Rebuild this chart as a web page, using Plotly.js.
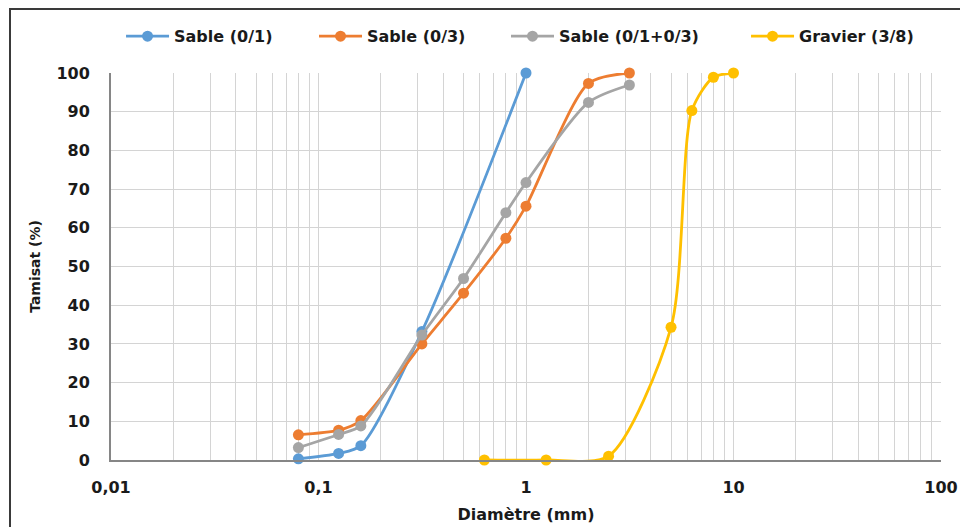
<!DOCTYPE html>
<html>
<head>
<meta charset="utf-8">
<script src="https://cdn.plot.ly/plotly-3.0.1.min.js"></script>
<style>
  html, body { margin: 0; padding: 0; overflow: hidden; background: #fff; }
  #chart { position: absolute; left: 0; top: 0; width: 960px; height: 527px; }
  #frame { position: absolute; left: 9px; top: 8px; width: 1000px; height: 600px;
           border: 2px solid #3a3a3a; pointer-events: none; box-sizing: border-box; }
</style>
</head>
<body>
<div id="chart"></div>
<div id="frame"></div>
<script>
// Data
const sable01_d = [0.08, 0.125, 0.16, 0.315, 1];
const sable01_t = [0.3, 1.7, 3.7, 33.2, 100];

const sable03_d = [0.08, 0.125, 0.16, 0.315, 0.5, 0.8, 1, 2, 3.15];
const sable03_t = [6.5, 7.7, 10.2, 30.0, 43.1, 57.3, 65.6, 97.3, 100];

const sableMix_d = [0.08, 0.125, 0.16, 0.315, 0.5, 0.8, 1, 2, 3.15];
const sableMix_t = [3.2, 6.6, 8.8, 32.3, 46.9, 63.9, 71.7, 92.4, 96.9];

const gravier_d = [0.63, 1.25, 2.5, 5, 6.3, 8, 10];
const gravier_t = [0, 0, 1.0, 34.3, 90.3, 98.9, 100];

const seriesNames = ['Sable (0/1)', 'Sable (0/3)', 'Sable (0/1+0/3)', 'Gravier (3/8)'];
const seriesColors = ['#5b9bd5', '#ed7d31', '#a5a5a5', '#ffc000'];

const xTickVals = [0.01, 0.1, 1, 10, 100];
const xTickText = ['0,01', '0,1', '1', '10', '100'];
const yTickVals = [0, 10, 20, 30, 40, 50, 60, 70, 80, 90, 100];

const xs = [sable01_d, sable03_d, sableMix_d, gravier_d];
const ys = [sable01_t, sable03_t, sableMix_t, gravier_t];
const legendIds = ['legend', 'legend2', 'legend3', 'legend4'];
const legendX = [0.0121, 0.2446, 0.4759, 0.7651];

const traces = xs.map((x, i) => ({
  type: 'scatter',
  mode: 'lines+markers',
  name: seriesNames[i],
  legend: legendIds[i],
  x: x,
  y: ys[i],
  line: { color: seriesColors[i], width: 2.8, shape: 'spline', smoothing: 0.75 },
  marker: { color: seriesColors[i], size: 11 },
  cliponaxis: false
}));

const legendFont = { family: 'DejaVu Sans', size: 16, color: '#1a1a1a', weight: 'bold' };

const layout = {
  width: 960,
  height: 527,
  margin: { l: 111, r: 19, t: 73, b: 67 },
  paper_bgcolor: '#ffffff',
  plot_bgcolor: '#ffffff',
  font: { family: 'DejaVu Sans', size: 16, color: '#1a1a1a' },
  showlegend: true,
  xaxis: {
    type: 'log',
    range: [-2, 2],
    tickvals: xTickVals,
    ticktext: xTickText,
    ticks: '',
    ticklabelstandoff: 12,
    tickfont: { family: 'DejaVu Sans', size: 16, color: '#1a1a1a', weight: 'bold' },
    showgrid: true,
    gridcolor: '#d4d4d4',
    gridwidth: 1,
    minor: { dtick: 'D1', showgrid: true, gridcolor: '#d4d4d4', gridwidth: 1 },
    showline: true,
    linecolor: '#868686',
    linewidth: 2,
    zeroline: false,
    title: { text: 'Diamètre (mm)', standoff: 13,
             font: { family: 'DejaVu Sans', size: 16, color: '#1a1a1a', weight: 'bold' } }
  },
  yaxis: {
    range: [0, 100],
    tickvals: yTickVals,
    ticks: '',
    ticklabelstandoff: 16,
    tickfont: { family: 'DejaVu Sans', size: 16, color: '#1a1a1a', weight: 'bold' },
    showgrid: true,
    gridcolor: '#d4d4d4',
    gridwidth: 1,
    showline: true,
    linecolor: '#868686',
    linewidth: 2,
    zeroline: false,
    title: { text: 'Tamisat (%)', standoff: 12,
             font: { family: 'DejaVu Sans', size: 14, color: '#1a1a1a', weight: 'bold' } }
  }
};

legendIds.forEach((id, i) => {
  layout[id] = {
    orientation: 'h',
    x: legendX[i], xanchor: 'left',
    y: 1.095, yanchor: 'middle',
    font: legendFont,
    itemwidth: 43,
    bgcolor: 'rgba(0,0,0,0)'
  };
});

Plotly.newPlot('chart', traces, layout, { displayModeBar: false, staticPlot: true });
</script>
</body>
</html>
